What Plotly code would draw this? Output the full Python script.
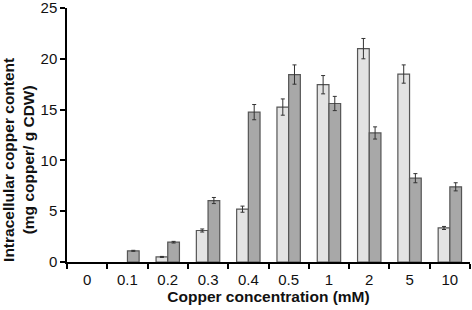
import plotly.graph_objects as go

categories = ["0", "0.1", "0.2", "0.3", "0.4", "0.5", "1", "2", "5", "10"]
light_vals = [None, None, 0.5, 3.1, 5.2, 15.25, 17.45, 21.0, 18.5, 3.35]
light_err = [0, 0, 0.05, 0.15, 0.3, 0.8, 0.9, 1.0, 0.9, 0.15]
dark_vals = [None, 1.1, 1.95, 6.05, 14.75, 18.45, 15.6, 12.7, 8.25, 7.4]
dark_err = [0, 0.05, 0.08, 0.3, 0.75, 0.95, 0.7, 0.6, 0.45, 0.4]

y_title = "<b>Intracellular copper content<br>(mg copper/ g CDW)</b>"
x_title = "<b>Copper concentration (mM)</b>"

font = "Liberation Sans, Arial, sans-serif"

fig = go.Figure()
fig.add_trace(go.Bar(
    x=categories, y=light_vals,
    marker=dict(color="#e3e3e3", line=dict(color="#555555", width=1.2)),
    error_y=dict(type="data", array=light_err, color="#333333", thickness=1, width=2),
))
fig.add_trace(go.Bar(
    x=categories, y=dark_vals,
    marker=dict(color="#a8a8a8", line=dict(color="#555555", width=1.2)),
    error_y=dict(type="data", array=dark_err, color="#333333", thickness=1, width=2),
))

fig.add_annotation(
    text=y_title, xref="paper", yref="paper", x=0, y=0.40,
    xshift=-48.5, xanchor="center", yanchor="middle", textangle=-90,
    showarrow=False, font=dict(size=15.5, color="#111111"),
)

fig.update_layout(
    width=472, height=310,
    margin=dict(l=67, r=2, t=8, b=48, autoexpand=False),
    paper_bgcolor="white", plot_bgcolor="white",
    showlegend=False,
    barmode="group", bargap=0.42, bargroupgap=0.0,
    font=dict(family=font, size=15, color="#111111"),
    xaxis=dict(
        type="category", tickson="boundaries",
        showline=True, linecolor="black", linewidth=1.5,
        ticks="outside", ticklen=5, tickcolor="black", tickwidth=1.5,
        showgrid=False, zeroline=False, automargin=False,
        tickfont=dict(size=15), ticklabelstandoff=3,
        title=dict(text=x_title, font=dict(size=15.5), standoff=0),
    ),
    yaxis=dict(
        range=[0, 25], dtick=5,
        showline=True, linecolor="black", linewidth=1.5,
        ticks="outside", ticklen=5, tickcolor="black", tickwidth=1.5,
        showgrid=False, zeroline=False, automargin=False,
        ticklabeloverflow="allow",
        tickfont=dict(size=15),
    ),
)

fig.write_html("out.html", config={"displayModeBar": False},
               post_script="document.body.style.margin='0';document.body.style.overflow='hidden';")
